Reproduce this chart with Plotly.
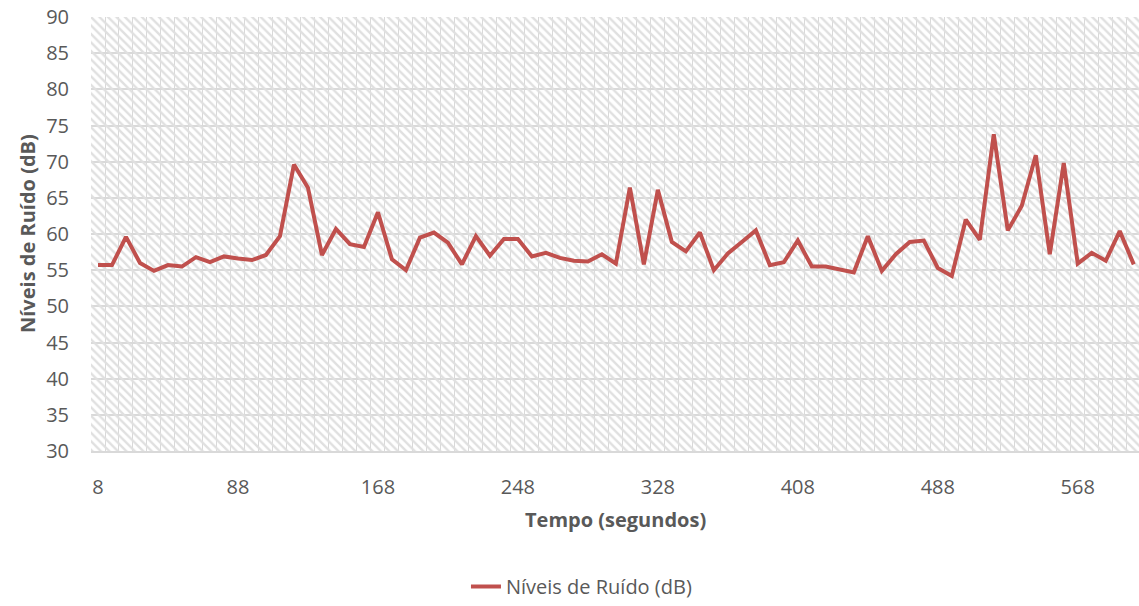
import plotly.graph_objects as go

# Noise level sampled every 8 seconds
tempo = list(range(8, 608, 8))
ruido = [
    55.7, 55.7, 59.6, 56.0, 54.9, 55.7, 55.5, 56.8, 56.1, 56.9,
    56.6, 56.4, 57.1, 59.7, 69.6, 66.4, 57.1, 60.7, 58.6, 58.2,
    63.0, 56.5, 55.0, 59.5, 60.2, 58.8, 55.8, 59.7, 57.0, 59.3,
    59.3, 56.9, 57.4, 56.7, 56.3, 56.2, 57.2, 55.9, 66.4, 55.8,
    66.1, 58.9, 57.6, 60.2, 55.0, 57.3, 58.9, 60.5, 55.7, 56.1,
    59.1, 55.5, 55.5, 55.1, 54.7, 59.7, 54.9, 57.2, 58.9, 59.1,
    55.3, 54.2, 62.0, 59.2, 73.8, 60.5, 63.9, 70.9, 57.2, 69.8,
    55.9, 57.4, 56.3, 60.4, 55.8,
]
tick_labels = [str(t) for t in tempo[::10]]
y_ticks = list(range(30, 95, 5))

FONT = "Open Sans"
TXT = "#595959"
GRID = "#d9d9d9"
RED = "#c0504d"

y_min, y_max = 30, 90
step = tempo[1] - tempo[0]
x_lo, x_hi = tempo[0] - step / 2, tempo[-1] + step / 2 - 1

fig = go.Figure()

# hatched plot-area background
fig.add_trace(go.Bar(
    x=[(x_lo + x_hi + 1) / 2], y=[y_max - y_min], base=[y_min],
    width=[x_hi + 1 - x_lo],
    marker=dict(color="rgba(0,0,0,0)", line=dict(width=0),
                pattern=dict(shape="\\", fgcolor="#e0e0e0", size=6,
                             solidity=0.4, fillmode="replace")),
    showlegend=False, hoverinfo="skip",
))

fig.add_trace(go.Scatter(
    x=tempo, y=ruido, mode="lines",
    line=dict(color=RED, width=4),
    name="Níveis de Ruído (dB)",
))

fig.update_layout(
    width=1139, height=606,
    margin=dict(l=91, r=0, t=17, b=151),
    paper_bgcolor="white", plot_bgcolor="white",
    font=dict(family=FONT, color=TXT, size=20),
    bargap=0,
    showlegend=True,
    legend=dict(orientation="h", x=0.468, xanchor="center",
                y=-0.313, yanchor="middle",
                font=dict(family=FONT, size=20, color=TXT)),
    xaxis=dict(
        range=[x_lo, x_hi], showgrid=False, zeroline=False,
        tickmode="array", tickvals=tempo[::10], ticktext=tick_labels,
        ticks="", ticklabelstandoff=17,
        tickfont=dict(family=FONT, size=20, color=TXT),
        showline=True, linecolor=GRID, linewidth=2,
        minor=dict(showgrid=True, gridcolor=GRID, gridwidth=1,
                   tick0=x_lo, dtick=step),
    ),
    yaxis=dict(
        range=[y_min, y_max], tickmode="array", tickvals=y_ticks,
        showgrid=True, gridcolor=GRID, gridwidth=1.5, zeroline=False,
        ticks="", ticklabelstandoff=21,
        tickfont=dict(family=FONT, size=20, color=TXT),
    ),
    annotations=[
        dict(text="<b>Tempo (segundos)</b>", xref="paper", yref="paper",
             x=0.5, y=0, yshift=-68, xanchor="center", yanchor="middle",
             showarrow=False, font=dict(family=FONT, size=20, color=TXT)),
        dict(text="<b>Níveis de Ruído (dB)</b>", xref="paper", yref="paper",
             x=0, xshift=-64, y=0.5, xanchor="center", yanchor="middle",
             textangle=-90, showarrow=False,
             font=dict(family=FONT, size=20, color=TXT)),
    ],
)

fig.write_html("out.html")
